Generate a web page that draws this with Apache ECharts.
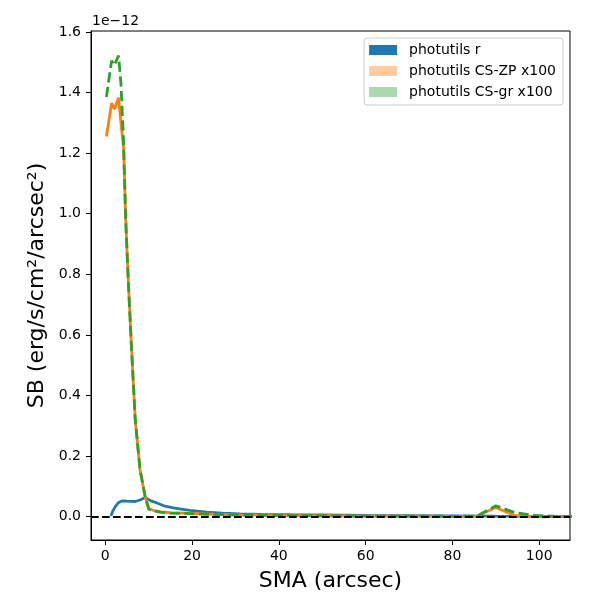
<!DOCTYPE html>
<html>
<head>
<meta charset="utf-8">
<script src="https://cdn.jsdelivr.net/npm/echarts@6/dist/echarts.min.js"></script>
<style>
html,body{margin:0;padding:0;background:#fff;}
#chart{width:600px;height:600px;}
</style>
</head>
<body>
<div id="chart"></div>
<script>
// Values are in units of 1e-12 erg/s/cm^2/arcsec^2
const seriesNames = ['photutils r', 'photutils CS-ZP x100', 'photutils CS-gr x100'];
const xTicks = [0, 20, 40, 60, 80, 100];
const yTicks = [0.0, 0.2, 0.4, 0.6, 0.8, 1.0, 1.2, 1.4, 1.6];

const smaBlue = [1.3, 1.7, 2.3, 3.0, 3.8, 5.0, 6.9, 8.0, 9.2, 10.4, 11.9, 13.5, 15.7, 17.5, 19.5, 23.4, 27, 31, 36, 42.6, 50, 60, 70, 80, 90, 100, 110];
const sbBlue = [0.002, 0.018, 0.033, 0.046, 0.052, 0.051, 0.050, 0.055, 0.063, 0.053, 0.045, 0.036, 0.029, 0.025, 0.021, 0.015, 0.012, 0.009, 0.0078, 0.0066, 0.0058, 0.0045, 0.0035, 0.0025, 0.0015, 0.001, 0.001];

const smaCS = [0.25, 1.45, 2.1, 3.05, 3.6, 4.2, 4.7, 5.35, 6.1, 6.9, 8.0, 9.2, 10.0, 11.0, 12.7, 15, 19.6, 25, 31, 40, 50, 60, 70, 80, 85.7, 90, 94.5, 99.2, 104, 110];
const sbZP = [1.255, 1.365, 1.345, 1.383, 1.30, 1.22, 0.98, 0.76, 0.54, 0.32, 0.155, 0.065, 0.027, 0.021, 0.016, 0.013, 0.011, 0.008, 0.006, 0.004, 0.003, 0.002, 0.002, 0.001, 0.002, 0.030, 0.003, -0.001, 0.0, 0.0];
const sbGR = [1.385, 1.505, 1.49, 1.522, 1.43, 1.24, 0.98, 0.76, 0.54, 0.32, 0.155, 0.065, 0.025, 0.019, 0.015, 0.012, 0.010, 0.0075, 0.0055, 0.004, 0.003, 0.002, 0.002, 0.001, 0.002, 0.036, 0.013, 0.004, 0.001, 0.0];

const zip = (xs, ys) => xs.map((x, i) => [x, ys[i]]);
const FONT = 'DejaVu Sans';

const chart = echarts.init(document.getElementById('chart'), null, {renderer: 'canvas'});
chart.setOption({
  animation: false,
  backgroundColor: '#fff',
  textStyle: {fontFamily: FONT},
  grid: {left: 91, right: 30, top: 31, bottom: 60, show: true, borderColor: '#000', borderWidth: 1, backgroundColor: 'transparent'},
  graphic: [{
    type: 'text', left: 92, top: 14,
    style: {text: '1e\u221212', font: '14px "DejaVu Sans"', fill: '#000'}
  }],
  legend: {
    orient: 'vertical', right: 37, top: 38,
    padding: [4, 7, 5, 5],
    itemWidth: 28, itemHeight: 10, itemGap: 5,
    backgroundColor: 'rgba(255,255,255,0.8)', borderColor: '#cccccc', borderWidth: 1, borderRadius: 3,
    formatter: '{a|{name}}',
    textStyle: {fontFamily: FONT, fontSize: 14, color: '#000', lineHeight: 16,
      rich: {a: {fontFamily: FONT, fontSize: 14, color: '#000', lineHeight: 16, padding: [0, 0, 0, 7]}}},
    data: [
      {name: seriesNames[0], icon: 'rect', itemStyle: {color: '#1f77b4', borderWidth: 0}},
      {name: seriesNames[1], icon: 'rect', itemStyle: {color: '#ffcc9f', borderWidth: 0}},
      {name: seriesNames[2], icon: 'rect', itemStyle: {color: '#abd9ab', borderWidth: 0}}
    ]
  },
  xAxis: {
    type: 'value', min: -3.3, max: 107.1,
    name: 'SMA (arcsec)', nameLocation: 'middle', nameGap: 30,
    nameTextStyle: {fontFamily: FONT, fontSize: 22, color: '#000'},
    axisLine: {show: true, onZero: false, lineStyle: {color: '#000', width: 1}},
    axisTick: {show: true, inside: false, length: 5, customValues: xTicks, lineStyle: {color: '#000', width: 1}},
    axisLabel: {show: true, margin: 9, customValues: xTicks, fontFamily: FONT, fontSize: 14, color: '#000',
      formatter: v => String(v)},
    splitLine: {show: false}
  },
  yAxis: {
    type: 'value', min: -0.077, max: 1.603,
    name: 'SB (erg/s/cm\u00b2/arcsec\u00b2)', nameLocation: 'middle', nameGap: 43, nameRotate: 90,
    nameTextStyle: {fontFamily: FONT, fontSize: 22, color: '#000'},
    axisLine: {show: true, onZero: false, lineStyle: {color: '#000', width: 1}},
    axisTick: {show: true, inside: false, length: 5, customValues: yTicks, lineStyle: {color: '#000', width: 1}},
    axisLabel: {show: true, margin: 10, customValues: yTicks, fontFamily: FONT, fontSize: 14, color: '#000',
      formatter: v => Number(v).toFixed(1)},
    splitLine: {show: false}
  },
  series: [
    {
      name: seriesNames[0], type: 'line', data: zip(smaBlue, sbBlue),
      showSymbol: false, symbol: 'none', clip: true,
      lineStyle: {color: '#1f77b4', width: 2.8}, itemStyle: {color: '#1f77b4'}, z: 2
    },
    {
      name: seriesNames[1], type: 'line', data: zip(smaCS, sbZP),
      showSymbol: false, symbol: 'none', clip: true,
      lineStyle: {color: '#ff7f0e', width: 2.8}, itemStyle: {color: '#ff7f0e'}, z: 3
    },
    {
      name: seriesNames[2], type: 'line', data: zip(smaCS, sbGR),
      showSymbol: false, symbol: 'none', clip: true,
      lineStyle: {color: '#2ca02c', width: 2.8, type: [10.3, 4.4]}, itemStyle: {color: '#2ca02c'}, z: 4,
      markLine: {
        silent: true, symbol: ['none', 'none'], label: {show: false},
        lineStyle: {color: '#000', width: 2, type: [7.7, 3.3]},
        data: [{yAxis: 0}]
      }
    }
  ]
});
</script>
</body>
</html>
